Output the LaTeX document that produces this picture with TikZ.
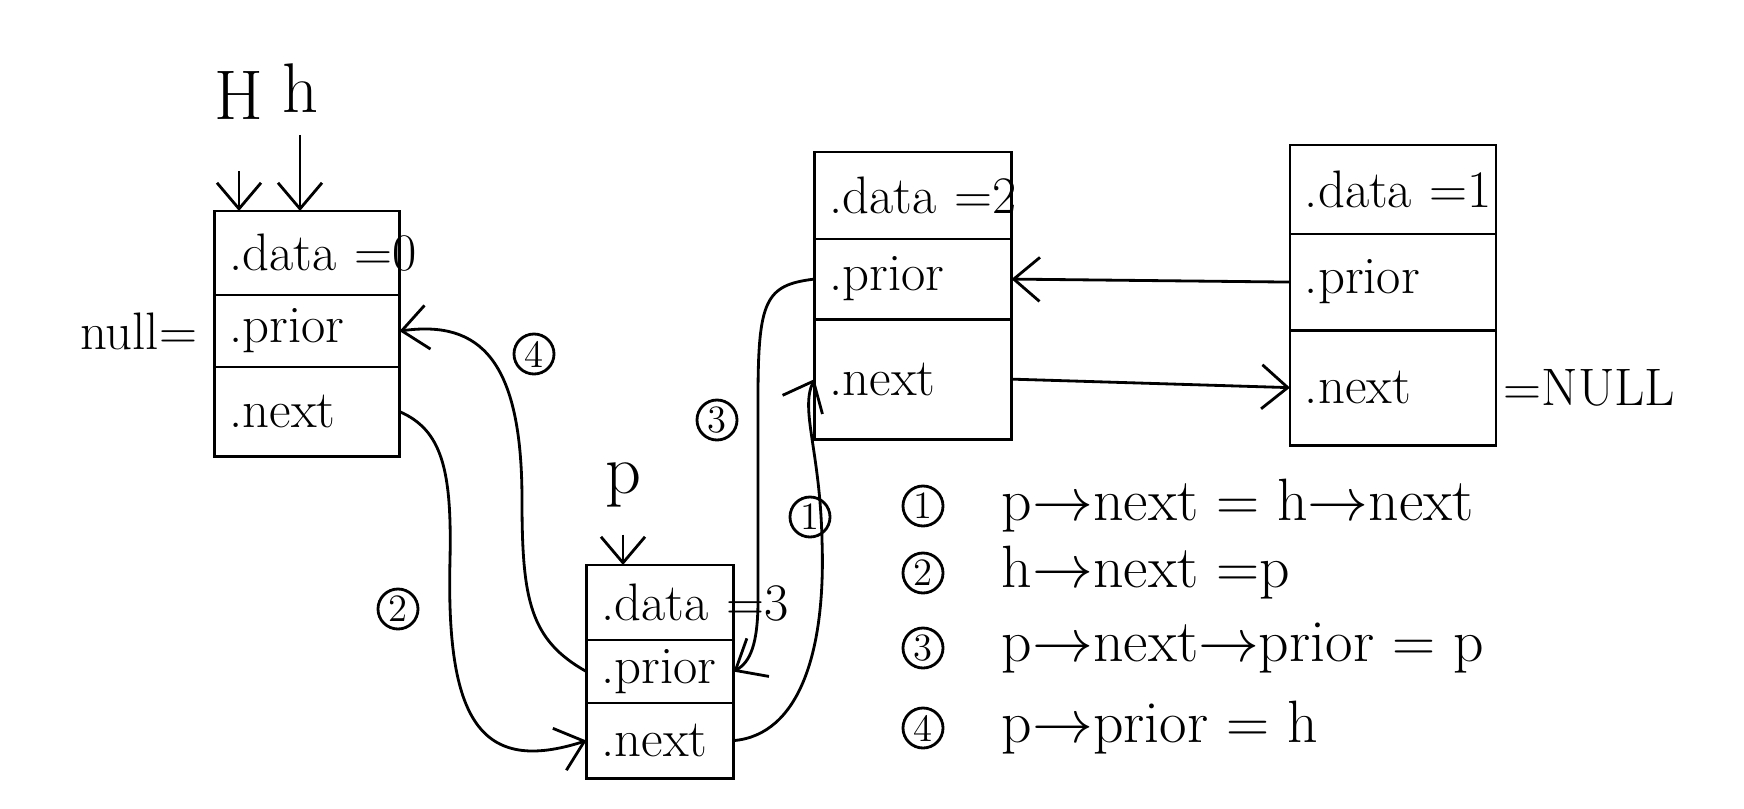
\documentclass[tikz,border=0pt]{standalone}
\usepackage{fontspec}
\usepackage{tikz}
\usetikzlibrary{positioning,arrows.meta}
\tikzset{
  cell/.style   = {draw, thick, outer sep=0pt, inner xsep=0.15cm, inner ysep=0pt, align=left, font=\fontsize{15}{18}\selectfont},
  link/.style   = {-{Straight Barb[length=2.6mm,width=4.4mm]}, thick},
  num/.style    = {draw, circle, thick, inner sep=0pt, minimum size=0.4cm, font=\fontsize{11}{12}\selectfont},
  lbl/.style    = {font=\fontsize{20}{22}\selectfont},
  legend/.style = {anchor=west, font=\fontsize{17}{20}\selectfont},
}

\begin{document}
\begin{tikzpicture}[x=0.01cm, y=-0.01cm]
  \useasboundingbox (0,0) rectangle (1744,809);

  % head node h
  \node[cell, anchor=north, text width=1.55cm, minimum height=0.84cm] (hd) at (307,211) {\mbox{.data =0}};
  \node[cell, below=0pt of hd, text width=1.55cm, minimum height=0.72cm] (hp) {.prior};
  \node[cell, below=0pt of hp, text width=1.55cm, minimum height=0.89cm] (hn) {.next};
  \node[lbl] (lH) at (239,95) {H};
  \node[lbl] (lh) at (300,88) {h};
  \draw[link, shorten <=0.4cm] (lH.south) -- (lH.south |- hd.north);
  \draw[link, shorten <=0.1cm] (lh.south) -- (lh.south |- hd.north);
  \node[left=0.05cm of hp, font=\fontsize{15}{18}\selectfont] (nl) {null=};

  % node 2
  \node[cell, anchor=north, text width=1.67cm, minimum height=0.87cm] (md) at (913,152) {\mbox{.data =2}};
  \node[cell, below=0pt of md, text width=1.67cm, minimum height=0.80cm] (mp) {.prior};
  \node[cell, below=0pt of mp, text width=1.67cm, minimum height=1.20cm] (mn) {.next};

  % node 1
  \node[cell, anchor=north, text width=1.76cm, minimum height=0.89cm] (rd) at (1393,145) {\mbox{.data =1}};
  \node[cell, below=0pt of rd, text width=1.76cm, minimum height=0.96cm] (rp) {.prior};
  \node[cell, below=0pt of rp, text width=1.76cm, minimum height=1.15cm] (rn) {.next};
  \node[right=-0.05cm of rn, font=\fontsize{15}{18}\selectfont] (nr) {=NULL};

  % new node p
  \node[cell, anchor=north, text width=1.17cm, minimum height=0.75cm] (pd) at (660,565) {\mbox{.data =3}};
  \node[cell, below=0pt of pd, text width=1.17cm, minimum height=0.63cm] (pp) {.prior};
  \node[cell, below=0pt of pp, text width=1.17cm, minimum height=0.75cm] (pn) {.next};
  \node[lbl] (lp) at (623,485) {p};
  \draw[link, shorten <=0.15cm] (lp.south) -- (lp.south |- pd.north);

  % links between node 2 and node 1
  \draw[link] (rp.west) -- (mp.east);
  \draw[link] (mn.east) -- (rn.west);

  % insert steps
  \draw[link] (pn.east) .. controls (800,735) and (826,650) .. (822,540) .. controls (820,450) and (800,410) .. (mn.west);
  \draw[link] (hn.east) .. controls (442,430) and (452,470) .. (450,560) .. controls (446,720) and (480,775) .. (pn.west);
  \draw[link] (mp.west) .. controls (765,285) and (758,300) .. (758,400) -- (758,600) .. controls (758,645) and (750,662) .. (pp.east);
  \draw[link] (pp.west) .. controls (530,640) and (522,600) .. (522,500) .. controls (522,360) and (480,320) .. (hp.east);
  \node[num] (c1) at (810,517) {1};
  \node[num] (c2) at (398,609) {2};
  \node[num] (c3) at (717,420) {3};
  \node[num] (c4) at (534,354) {4};

  % legend
  \node[num] (l1) at (923,506) {1};
  \node[num] (l2) at (923,573) {2};
  \node[num] (l3) at (923,648) {3};
  \node[num] (l4) at (923,728) {4};
  \node[legend, right=0.45cm of l1] (t1) {p$\rightarrow$next = h$\rightarrow$next};
  \node[legend, right=0.45cm of l2] (t2) {h$\rightarrow$next =p};
  \node[legend, right=0.45cm of l3] (t3) {p$\rightarrow$next$\rightarrow$prior = p};
  \node[legend, right=0.45cm of l4] (t4) {p$\rightarrow$prior = h};
\end{tikzpicture}
\end{document}
